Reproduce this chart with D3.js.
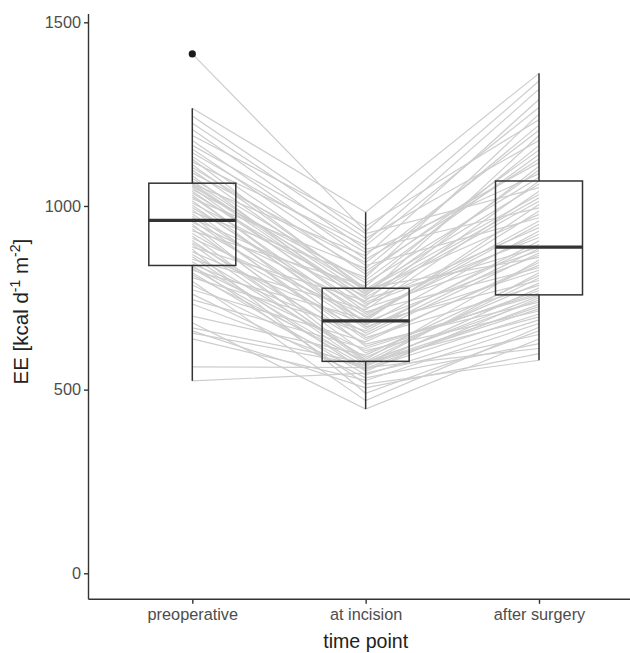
<!DOCTYPE html>
<html>
<head>
<meta charset="utf-8">
<script src="https://cdn.jsdelivr.net/npm/d3@7"></script>
<style>
  html, body { margin: 0; padding: 0; background: #fff; }
  svg { display: block; }
</style>
</head>
<body>
<svg id="chart" width="630" height="653"></svg>
<script>
// Energy expenditure per subject at three time points (kcal d^-1 m^-2)
const categories = ["preoperative", "at incision", "after surgery"];

const preop = [524, 562, 638, 654, 660, 668, 682, 700, 733, 745,
  760, 772, 785, 795, 805, 812, 818, 825, 830, 834,
  838, 842, 848, 855, 862, 868, 875, 882, 888, 895,
  900, 906, 912, 918, 925, 932, 938, 945, 950, 956,
  961, 966, 972, 978, 984, 990, 996, 1002, 1008, 1014,
  1020, 1025, 1030, 1035, 1040, 1045, 1050, 1054, 1058, 1060,
  1062, 1068, 1075, 1082, 1090, 1098, 1105, 1112, 1120, 1128,
  1135, 1145, 1155, 1165, 1178, 1192, 1208, 1225, 1245, 1266,
  1414];

const incision = [545, 560, 525, 566, 505, 572, 447, 594, 555, 612,
  532, 630, 558, 470, 660, 576, 540, 692, 563, 606,
  515, 648, 570, 717, 550, 588, 676, 490, 742, 568,
  624, 582, 702, 574, 654, 782, 600, 687, 577, 727,
  636, 755, 618, 666, 806, 642, 707, 684, 763, 671,
  830, 697, 680, 751, 722, 798, 712, 773, 737, 864,
  747, 759, 790, 732, 846, 767, 822, 776, 892, 770,
  814, 873, 838, 902, 855, 945, 882, 912, 925, 983,
  931];

const afterSurgery = [650, 612, 680, 720, 598, 755, 638, 811, 706, 763,
  625, 846, 732, 670, 905, 744, 690, 986, 777, 714,
  580, 872, 726, 1040, 750, 790, 932, 660, 1108, 818,
  738, 853, 959, 698, 884, 1165, 770, 1004, 804, 1068,
  839, 1192, 758, 896, 1250, 784, 923, 866, 1098, 825,
  1220, 950, 797, 1013, 878, 1140, 832, 1060, 941, 1290,
  888, 1022, 1078, 914, 1206, 977, 1128, 860, 1268, 1031,
  1152, 1088, 968, 1318, 1118, 1235, 995, 1178, 1050, 1361,
  1340];

const yTicks = [0, 500, 1000, 1500];

const series = [preop, incision, afterSurgery];
const subjects = preop.map((_, i) => series.map((s, k) => ({ cat: categories[k], v: s[i] })));

const svg = d3.select("#chart");
const font = "'Liberation Sans', Arial, sans-serif";

const panel = { left: 88.5, right: 643, top: 14, bottom: 599.3 };

const x = d3.scalePoint()
  .domain(categories)
  .range([192.3, 539]);

const y = d3.scaleLinear()
  .domain([-70.8, 1522.6])
  .range([panel.bottom, panel.top]);

const boxHalf = 43.5;
const ink = "#333333";

// Subject trajectories
const line = d3.line().x(d => x(d.cat)).y(d => y(d.v));
svg.append("g")
  .selectAll("path")
  .data(subjects)
  .join("path")
  .attr("d", line)
  .attr("fill", "none")
  .attr("stroke", "#cdcdcd")
  .attr("stroke-width", 1.2);

// Box plot statistics (Tukey, 1.5 IQR whiskers)
function boxStats(values) {
  const s = values.slice().sort(d3.ascending);
  const q1 = d3.quantileSorted(s, 0.25);
  const med = d3.quantileSorted(s, 0.5);
  const q3 = d3.quantileSorted(s, 0.75);
  const iqr = q3 - q1;
  const lo = d3.min(s.filter(v => v >= q1 - 1.5 * iqr));
  const hi = d3.max(s.filter(v => v <= q3 + 1.5 * iqr));
  const out = s.filter(v => v < lo || v > hi);
  return { q1, med, q3, lo, hi, out };
}

const boxes = svg.append("g")
  .selectAll("g")
  .data(categories.map((c, k) => ({ cat: c, ...boxStats(series[k]) })))
  .join("g");

boxes.append("line")
  .attr("x1", d => x(d.cat)).attr("x2", d => x(d.cat))
  .attr("y1", d => y(d.q3)).attr("y2", d => y(d.hi))
  .attr("stroke", ink).attr("stroke-width", 1.5);
boxes.append("line")
  .attr("x1", d => x(d.cat)).attr("x2", d => x(d.cat))
  .attr("y1", d => y(d.q1)).attr("y2", d => y(d.lo))
  .attr("stroke", ink).attr("stroke-width", 1.5);
boxes.append("rect")
  .attr("x", d => x(d.cat) - boxHalf)
  .attr("width", boxHalf * 2)
  .attr("y", d => y(d.q3))
  .attr("height", d => y(d.q1) - y(d.q3))
  .attr("fill", "none")
  .attr("stroke", ink).attr("stroke-width", 1.5);
boxes.append("line")
  .attr("x1", d => x(d.cat) - boxHalf).attr("x2", d => x(d.cat) + boxHalf)
  .attr("y1", d => y(d.med)).attr("y2", d => y(d.med))
  .attr("stroke", ink).attr("stroke-width", 3.2);
boxes.selectAll("circle")
  .data(d => d.out.map(v => ({ cat: d.cat, v })))
  .join("circle")
  .attr("cx", d => x(d.cat)).attr("cy", d => y(d.v))
  .attr("r", 3.6)
  .attr("fill", "#1a1a1a");

// Axes
const yAxis = svg.append("g")
  .attr("transform", `translate(${panel.left},0)`)
  .call(d3.axisLeft(y).tickValues(yTicks).tickFormat(d3.format("d"))
    .tickSize(4.5).tickPadding(3).tickSizeOuter(0));
const xAxis = svg.append("g")
  .attr("transform", `translate(0,${panel.bottom})`)
  .call(d3.axisBottom(x).tickSize(4.5).tickPadding(5).tickSizeOuter(0));

yAxis.select(".domain").attr("d", `M0,${panel.top}V${panel.bottom}`);
xAxis.select(".domain").attr("d", `M${panel.left},0H${panel.right}`);

[yAxis, xAxis].forEach(a => {
  a.select(".domain").attr("stroke", ink).attr("stroke-width", 1.4);
  a.selectAll(".tick line").attr("stroke", ink).attr("stroke-width", 1.4);
  a.selectAll(".tick text")
    .attr("fill", "#4d4d4d")
    .style("font-family", font)
    .style("font-size", "16.3px");
});

// Axis titles
svg.append("text")
  .attr("x", 365.7)
  .attr("y", 648)
  .attr("text-anchor", "middle")
  .attr("fill", "#222")
  .style("font-family", font)
  .style("font-size", "19.6px")
  .text("time point");

const yt = svg.append("text")
  .attr("transform", `translate(28,${(panel.top + panel.bottom) / 2 + 5}) rotate(-90)`)
  .attr("text-anchor", "middle")
  .attr("fill", "#222")
  .style("font-family", font)
  .style("font-size", "20.5px");
yt.append("tspan").text("EE [kcal d");
yt.append("tspan").attr("dy", -8).style("font-size", "14px").text("-1");
yt.append("tspan").attr("dy", 8).text(" m");
yt.append("tspan").attr("dy", -8).style("font-size", "14px").text("-2");
yt.append("tspan").attr("dy", 8).text("]");
</script>
</body>
</html>
